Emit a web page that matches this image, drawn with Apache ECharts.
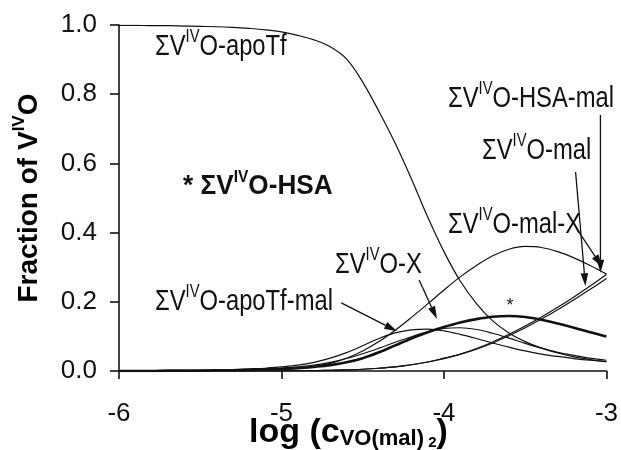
<!DOCTYPE html>
<html>
<head>
<meta charset="utf-8">
<script src="https://cdn.jsdelivr.net/npm/echarts@6/dist/echarts.min.js"></script>
<style>
html,body{margin:0;padding:0;background:#fff;}
#chart{width:621px;height:450px;}
</style>
</head>
<body>
<div id="chart"></div>
<script>
// ---- data ----
var logC = [-6.0,-5.9,-5.8,-5.7,-5.6,-5.5,-5.4,-5.3,-5.2,-5.1,-5.0,-4.9,-4.8,-4.7,-4.6,-4.5,-4.4,-4.3,-4.2,-4.1,-4.0,-3.9,-3.8,-3.7,-3.6,-3.5,-3.4,-3.3,-3.2,-3.1,-3.0];
var apoTf    = [0.999,0.999,0.998,0.998,0.997,0.996,0.995,0.993,0.990,0.986,0.980,0.970,0.957,0.937,0.902,0.835,0.750,0.658,0.555,0.445,0.345,0.260,0.195,0.145,0.110,0.085,0.066,0.052,0.041,0.033,0.027];
var hsa      = [0.000,0.000,0.000,0.001,0.001,0.001,0.002,0.002,0.003,0.004,0.006,0.008,0.012,0.017,0.025,0.037,0.054,0.074,0.094,0.112,0.127,0.140,0.150,0.157,0.159,0.156,0.148,0.137,0.125,0.112,0.100];
var apoTfMal = [0.000,0.000,0.001,0.001,0.001,0.002,0.003,0.004,0.006,0.008,0.012,0.017,0.025,0.037,0.053,0.073,0.094,0.110,0.119,0.121,0.116,0.106,0.094,0.081,0.069,0.058,0.049,0.042,0.036,0.031,0.027];
var xSpec    = [0.000,0.000,0.000,0.001,0.001,0.001,0.002,0.003,0.004,0.006,0.008,0.012,0.017,0.025,0.036,0.050,0.066,0.083,0.099,0.113,0.123,0.125,0.120,0.109,0.095,0.080,0.066,0.054,0.045,0.037,0.031];
var malX     = [0.000,0.000,0.000,0.000,0.000,0.000,0.001,0.001,0.002,0.003,0.005,0.008,0.013,0.022,0.037,0.058,0.085,0.118,0.155,0.194,0.234,0.272,0.305,0.333,0.352,0.360,0.357,0.345,0.327,0.305,0.280];
var mal      = [0.000,0.000,0.000,0.000,0.000,0.000,0.000,0.000,0.000,0.000,0.000,0.001,0.001,0.002,0.003,0.005,0.008,0.012,0.018,0.026,0.036,0.048,0.063,0.081,0.102,0.125,0.150,0.177,0.206,0.236,0.267];
var hsaMal   = [0.000,0.000,0.000,0.000,0.000,0.000,0.000,0.000,0.000,0.000,0.000,0.001,0.001,0.002,0.003,0.005,0.008,0.012,0.018,0.026,0.037,0.049,0.065,0.084,0.106,0.130,0.156,0.184,0.214,0.246,0.279];
var xTicks = [-6,-5,-4,-3];
var yTicks = [0.0,0.2,0.4,0.6,0.8,1.0];

// arrows in data coordinates: [fromX, fromY, toX, toY]
var arrows = [
  [-3.037, 0.740, -3.037, 0.284],
  [-3.190, 0.575, -3.129, 0.245],
  [-3.166, 0.399, -3.025, 0.300],
  [-4.153, 0.263, -4.043, 0.150],
  [-4.632, 0.197, -4.288, 0.115]
];

function pairs(v){ return logC.map(function(x,i){ return [x, v[i]]; }); }
function lineSeries(name, v, w){
  return {name:name, type:'line', data:pairs(v), smooth:0.35, showSymbol:false, symbol:'none',
          lineStyle:{color:'#111', width:w}, z: w>2?4:3, animation:false};
}

var chart = echarts.init(document.getElementById('chart'), null, {renderer:'canvas'});
var FONT = 'Liberation Sans, Arial, Helvetica, sans-serif';

var option = {
  animation:false,
  backgroundColor:'#fff',
  grid:{left:119, right:14, top:25, bottom:79, containLabel:false},
  xAxis:{type:'value', min:-6, max:-3, interval:1,
    axisLine:{onZero:false, lineStyle:{color:'#111', width:1.6}},
    axisTick:{show:true, length:8, inside:false, lineStyle:{color:'#111', width:1.6}},
    axisLabel:{margin:30, color:'#111', fontSize:26, fontFamily:FONT,
      formatter:function(v){ return xTicks.indexOf(v)>=0 ? String(v) : ''; }},
    splitLine:{show:false}},
  yAxis:{type:'value', min:0, max:1, interval:0.2,
    axisLine:{show:true, lineStyle:{color:'#111', width:1.6}},
    axisTick:{show:true, length:9, inside:false, lineStyle:{color:'#111', width:1.6}},
    axisLabel:{margin:22, color:'#111', fontSize:26, fontFamily:FONT,
      formatter:function(v){ return v.toFixed(1); }},
    splitLine:{show:false}},
  series:[
    lineSeries('ΣVIVO-apoTf', apoTf, 1.2),
    lineSeries('ΣVIVO-HSA', hsa, 2.6),
    lineSeries('ΣVIVO-apoTf-mal', apoTfMal, 1.2),
    lineSeries('ΣVIVO-X', xSpec, 1.2),
    lineSeries('ΣVIVO-mal-X', malX, 1.2),
    lineSeries('ΣVIVO-mal', mal, 1.2),
    lineSeries('ΣVIVO-HSA-mal', hsaMal, 1.2)
  ]
};
chart.setOption(option);

// ---- annotations ----
var supRich = {
  m:{fontSize:29, lineHeight:38, fontFamily:FONT, color:'#111', verticalAlign:'middle'},
  s:{fontSize:18, lineHeight:18, fontFamily:FONT, color:'#111', verticalAlign:'top'}
};
function label(left, midY, rest, opts){
  opts = opts || {};
  var rich = opts.rich || supRich;
  return {type:'text', x:left, y:midY, scaleX: opts.sx || 0.82, z:10,
    style:{x:0, y:0, text: opts.text || ('{m|ΣV}{s|IV}{m|' + rest + '}'), rich:rich,
      textAlign:'left', textVerticalAlign:'middle', fill:'#111'}};
}
var boldRich = {
  m:{fontSize:27, lineHeight:34, fontWeight:'bold', fontFamily:FONT, color:'#111', verticalAlign:'middle'},
  s:{fontSize:16, lineHeight:16, fontWeight:'bold', fontFamily:FONT, color:'#111', verticalAlign:'top'}
};
var graphics = [
  label(155, 47, 'O-apoTf'),
  label(183, 187, '', {text:'{m|* ΣV}{s|IV}{m|O-HSA}', rich:boldRich, sx:0.97}),
  label(448, 99, 'O-HSA-mal'),
  label(482, 151, 'O-mal'),
  label(448, 225, 'O-mal-X'),
  label(335, 265, 'O-X'),
  label(155, 302, 'O-apoTf-mal'),
  {type:'text', x:510, y:306, z:10, style:{text:'*', fontSize:18, fontFamily:FONT, fill:'#111', textAlign:'center', textVerticalAlign:'middle'}},
  // y axis title
  {type:'text', x:29, y:198, rotation:Math.PI/2, z:10,
    style:{text:'{m|Fraction of V}{s|IV}{m|O}', textAlign:'center', textVerticalAlign:'middle',
      rich:{m:{fontSize:28, lineHeight:36, fontWeight:'bold', fontFamily:FONT, color:'#111', verticalAlign:'middle'},
            s:{fontSize:17, lineHeight:17, fontWeight:'bold', fontFamily:FONT, color:'#111', verticalAlign:'top'}}}},
  // x axis title
  {type:'text', x:249, y:433, z:10,
    style:{text:'{m|log (c}{b|VO(mal)}{c| 2}{m|)}', textAlign:'left', textVerticalAlign:'middle',
      rich:{m:{fontSize:34, fontWeight:'bold', fontFamily:FONT, color:'#111'},
            b:{fontSize:22, fontWeight:'bold', fontFamily:FONT, color:'#111', verticalAlign:'bottom'},
            c:{fontSize:15, fontWeight:'bold', fontFamily:FONT, color:'#111', verticalAlign:'bottom'}}}}
];

arrows.forEach(function(a){
  var p0 = chart.convertToPixel({gridIndex:0}, [a[0], a[1]]);
  var p1 = chart.convertToPixel({gridIndex:0}, [a[2], a[3]]);
  var dx = p1[0]-p0[0], dy = p1[1]-p0[1];
  var L = Math.sqrt(dx*dx+dy*dy), ux = dx/L, uy = dy/L;
  var hl = 13, hw = 3.8;
  var bx = p1[0]-ux*hl, by = p1[1]-uy*hl;
  graphics.push({type:'line', z:9, shape:{x1:p0[0], y1:p0[1], x2:bx, y2:by}, style:{stroke:'#111', lineWidth:1.3}});
  graphics.push({type:'polygon', z:9, shape:{points:[[p1[0],p1[1]],[bx-uy*hw, by+ux*hw],[bx+uy*hw, by-ux*hw]]}, style:{fill:'#111'}});
});

chart.setOption({graphic: graphics});
</script>
</body>
</html>
